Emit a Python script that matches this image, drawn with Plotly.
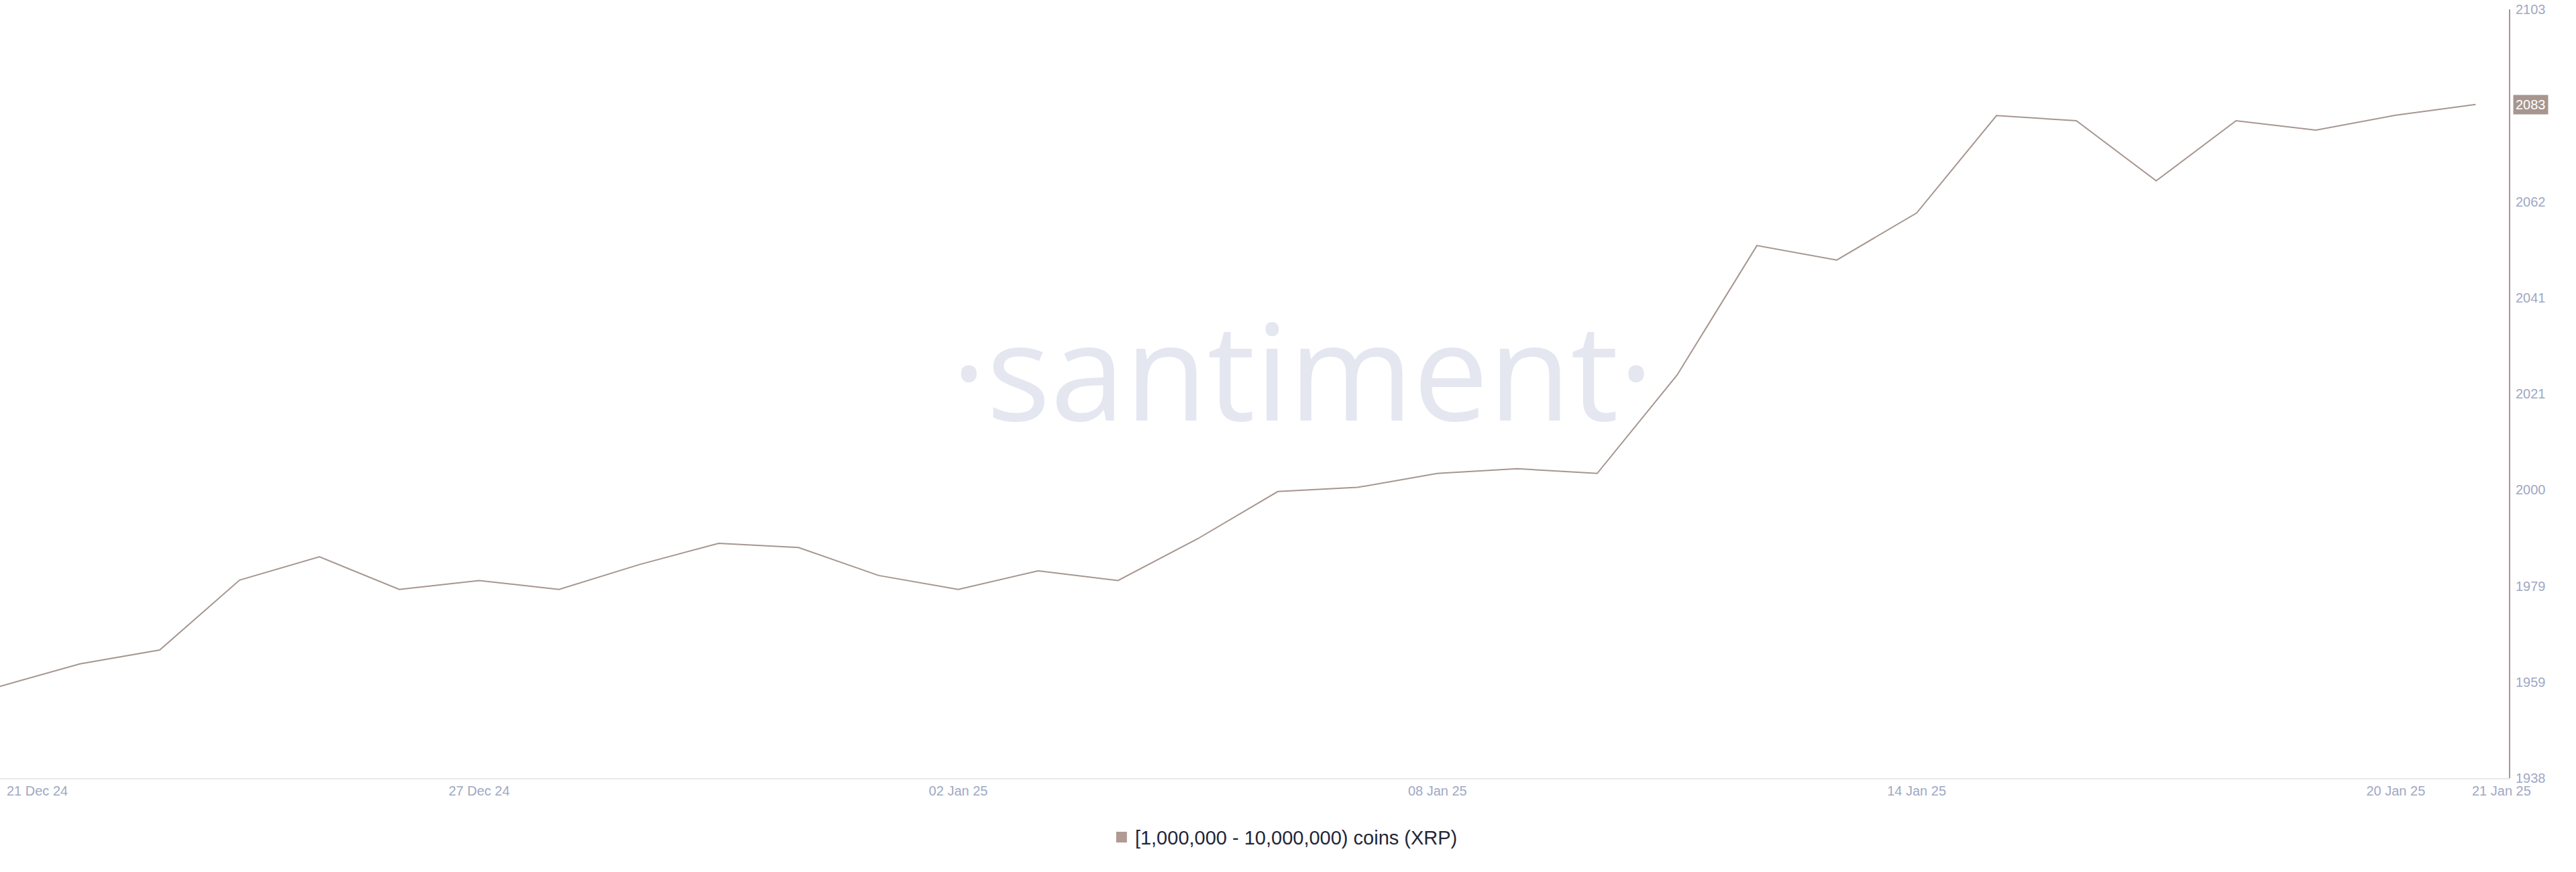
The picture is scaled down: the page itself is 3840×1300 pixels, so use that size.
import pandas as pd
import plotly.graph_objects as go

# ---- data ----
dates = pd.date_range("2024-12-21", "2025-01-21", freq="D")
values = [1957.7, 1962.5, 1965.5, 1980.5, 1985.5, 1978.5, 1980.4, 1978.5, 1983.8, 1988.4, 1987.5,
          1981.5, 1978.5, 1982.5, 1980.4, 1989.4, 1999.5, 2000.4, 2003.4, 2004.4, 2003.4, 2024.5,
          2052.3, 2049.2, 2059.3, 2080.2, 2079.1, 2066.2, 2079.1, 2077.1, 2080.3, 2082.6]
series_name = "[1,000,000 - 10,000,000) coins (XRP)"
x_tick_dates = ["2024-12-27", "2025-01-02", "2025-01-08", "2025-01-14", "2025-01-20"]
x_tick_labels = ["27 Dec 24", "02 Jan 25", "08 Jan 25", "14 Jan 25", "20 Jan 25"]
x_first_label = "21 Dec 24"
x_last_label = "21 Jan 25"
y_min, y_max = 1938, 2103
y_tick_labels = ["1938", "1959", "1979", "2000", "2021", "2041", "2062", "", "2103"]

# ---- style ----
LINE = "#a6968f"
TICK = "#a0a8c3"
FONT = "Liberation Sans, Arial, sans-serif"

n = len(y_tick_labels)
y_tick_vals = [y_min + (y_max - y_min) * i / (n - 1) for i in range(n)]

fig = go.Figure()
fig.add_trace(go.Scatter(x=dates, y=values, mode="lines",
                         line=dict(color=LINE, width=2), showlegend=False,
                         hoverinfo="x+y"))
fig.add_trace(go.Scatter(x=[None], y=[None], mode="markers", name=series_name,
                         marker=dict(symbol="square", size=16, color="#b09a93")))

fig.update_layout(
    width=3840, height=1300,
    margin=dict(l=0, r=100, t=14, b=140),
    paper_bgcolor="white", plot_bgcolor="white",
    font=dict(family=FONT, size=20, color=TICK),
    showlegend=True,
    legend=dict(orientation="h", x=0.512, xanchor="center", y=-0.077, yanchor="middle",
                font=dict(family=FONT, size=29, color="#222638"), bgcolor="rgba(0,0,0,0)"),
    xaxis=dict(range=["2024-12-21", "2025-01-21 10:00"], showgrid=False, zeroline=False,
               showline=True, linecolor="#e8e8ea", linewidth=2,
               tickvals=x_tick_dates, ticktext=x_tick_labels, ticks="",
               tickfont=dict(family=FONT, size=20, color=TICK)),
    yaxis=dict(range=[y_min, y_max], side="right", showgrid=False, zeroline=False,
               showline=True, linecolor=LINE, linewidth=2,
               tickvals=y_tick_vals, ticktext=y_tick_labels, ticks="",
               ticklabelstandoff=4,
               tickfont=dict(family=FONT, size=20, color=TICK)),
)

# watermark
fig.add_annotation(text="·santiment·", xref="paper", yref="paper", x=0.519, y=0.533,
                   xanchor="center", yanchor="middle", showarrow=False,
                   font=dict(family="Open Sans, sans-serif", size=200, color="#e4e7f0"))

# edge date labels
fig.add_annotation(text=x_first_label, xref="paper", yref="paper", x=0, y=0,
                   xanchor="left", yanchor="top", xshift=8, yshift=-6, showarrow=False,
                   font=dict(family=FONT, size=20, color=TICK))
fig.add_annotation(text=x_last_label, xref="paper", yref="paper", x=1, y=0,
                   xanchor="center", yanchor="top", xshift=-11, yshift=-6, showarrow=False,
                   font=dict(family=FONT, size=20, color=TICK))

# current value badge
fig.add_annotation(text=f"{round(values[-1])}", xref="paper", yref="y", x=1, y=values[-1],
                   xanchor="left", yanchor="middle", xshift=6, showarrow=False,
                   bgcolor=LINE, borderpad=3,
                   font=dict(family=FONT, size=20, color="white"))

fig.write_html("out.html", config={"displayModeBar": False},
               post_script="document.body.style.margin='0';")
